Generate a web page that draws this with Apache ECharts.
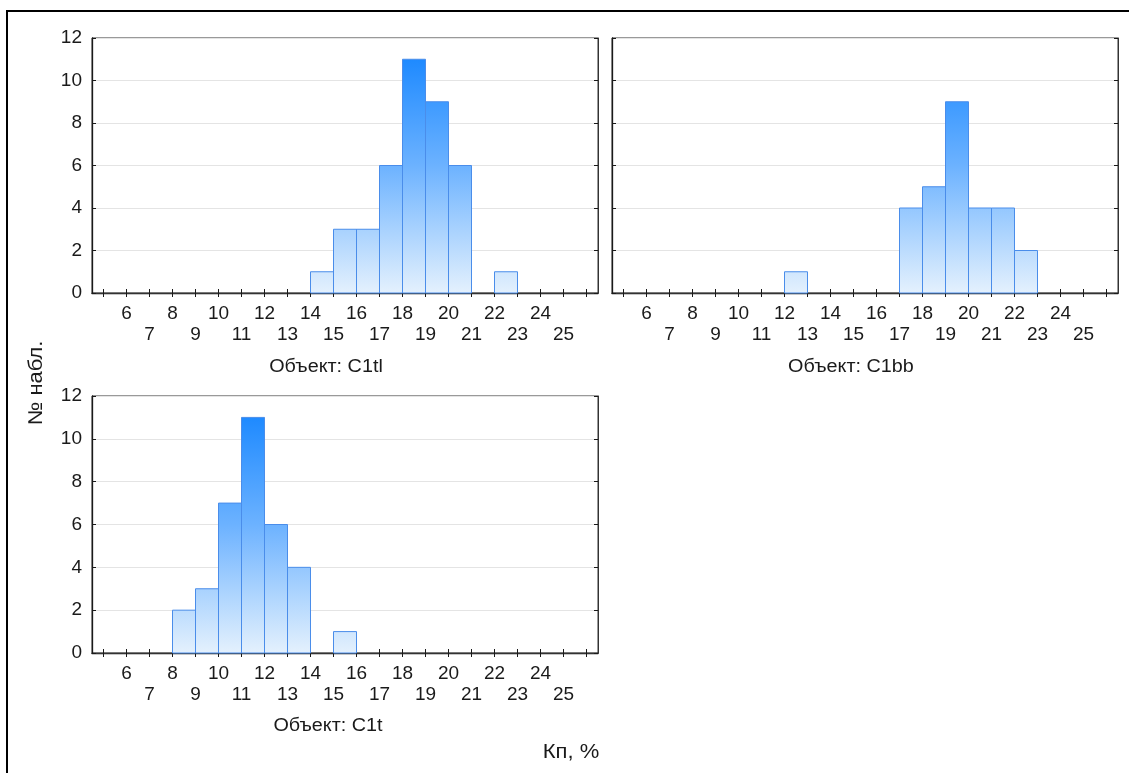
<!DOCTYPE html>
<html>
<head>
<meta charset="utf-8">
<title>Кп, % — гистограммы</title>
<script src="https://cdn.jsdelivr.net/npm/echarts@6/dist/echarts.min.js"></script>
<style>
  html, body { margin: 0; padding: 0; background: #fff; }
  #chart { width: 1129px; height: 773px; }
</style>
</head>
<body>
<div id="chart"></div>
<script>
// Histogram bins: lower edge of each 1 %-wide class and the count in it
const binWidth = 1;

const c1tlBins   = [14, 15, 16, 17, 18, 19, 20, 22];
const c1tlCounts = [1, 3, 3, 6, 11, 9, 6, 1];

const c1bbBins   = [12, 17, 18, 19, 20, 21, 22];
const c1bbCounts = [1, 4, 5, 9, 4, 4, 2];

const c1tBins    = [8, 9, 10, 11, 12, 13, 15];
const c1tCounts  = [2, 3, 7, 11, 6, 4, 1];

const panelTitles = ['Объект: C1tl', 'Объект: C1bb', 'Объект: C1t'];

// Axis scales
const xMin = 4.5, xMax = 26.5;
const xTickValues  = [5, 6, 7, 8, 9, 10, 11, 12, 13, 14, 15, 16, 17, 18, 19, 20, 21, 22, 23, 24, 25, 26];
const xLabelValues = [6, 7, 8, 9, 10, 11, 12, 13, 14, 15, 16, 17, 18, 19, 20, 21, 22, 23, 24, 25];
const yMin = 0, yMax = 12, yStep = 2;

const yAxisName = '№ набл.';
const xAxisName = 'Кп, %';

const FONT = "'Liberation Sans', Arial, sans-serif";
const INK = '#1a1a1a';

const panels = [
  { bins: c1tlBins, counts: c1tlCounts, grid: { left: 92,  top: 38,  width: 506, height: 255 }, yLabels: true },
  { bins: c1bbBins, counts: c1bbCounts, grid: { left: 612, top: 38,  width: 506, height: 255 }, yLabels: false },
  { bins: c1tBins,  counts: c1tCounts,  grid: { left: 92,  top: 396, width: 506, height: 257 }, yLabels: true }
];

const grid = [], xAxis = [], yAxis = [], series = [];

panels.forEach((p, i) => {
  grid.push(Object.assign({
    show: true, borderColor: '#333', borderWidth: 1,
    backgroundColor: '#fff', containLabel: false, outerBoundsMode: 'none'
  }, p.grid));

  // bottom axis with the staggered two-row labels
  xAxis.push({
    type: 'value', gridIndex: i, position: 'bottom', min: xMin, max: xMax,
    axisLine: { show: true, lineStyle: { color: INK, width: 1.3 } },
    axisTick: { show: true, inside: true, length: 4, customValues: xTickValues, lineStyle: { color: INK } },
    axisLabel: {
      show: true, customValues: xLabelValues, margin: 10,
      fontFamily: FONT, fontSize: 19, color: INK, lineHeight: 21,
      formatter: v => (v % 2 ? '\n' + v : String(v))
    },
    splitLine: { show: false }
  });
  // top frame ticks
  xAxis.push({
    type: 'value', gridIndex: i, position: 'top', min: xMin, max: xMax,
    axisLine: { show: true, lineStyle: { color: '#333', width: 1 } },
    axisTick: { show: true, inside: true, length: 4, customValues: xTickValues, lineStyle: { color: INK } },
    axisLabel: { show: false },
    splitLine: { show: false }
  });

  yAxis.push({
    type: 'value', gridIndex: i, position: 'left', min: yMin, max: yMax, interval: yStep,
    axisLine: { show: true, lineStyle: { color: INK, width: 1.3 } },
    axisTick: { show: true, inside: true, length: 4, lineStyle: { color: INK } },
    axisLabel: { show: p.yLabels, margin: 10, fontFamily: FONT, fontSize: 19, color: INK },
    splitLine: { show: true, lineStyle: { color: '#e4e4e4', width: 1 } }
  });
  yAxis.push({
    type: 'value', gridIndex: i, position: 'right', min: yMin, max: yMax, interval: yStep,
    axisLine: { show: true, lineStyle: { color: '#333', width: 1 } },
    axisTick: { show: true, inside: true, length: 4, lineStyle: { color: INK } },
    axisLabel: { show: false },
    splitLine: { show: false }
  });

  series.push({
    type: 'custom',
    xAxisIndex: i * 2,
    yAxisIndex: i * 2,
    data: p.bins.map((b, k) => [b, p.counts[k]]),
    renderItem: (params, api) => {
      const lo = api.value(0), n = api.value(1);
      const p0 = api.coord([lo, 0]);
      const p1 = api.coord([lo + binWidth, n]);
      const base = api.coord([lo, yMin]);
      const top = api.coord([lo, yMax]);
      return {
        type: 'rect',
        shape: { x: p0[0], y: p1[1], width: p1[0] - p0[0], height: p0[1] - p1[1] },
        style: {
          fill: {
            type: 'linear', global: true,
            x: 0, y: top[1], x2: 0, y2: base[1],
            colorStops: [
              { offset: 0, color: '#0f82ff' },
              { offset: 0.5, color: '#6cb2ff' },
              { offset: 1, color: '#e4f1fd' }
            ]
          },
          stroke: '#4a8dea',
          lineWidth: 1
        }
      };
    },
    silent: true
  });
});

function caption(text, x, y, size) {
  return {
    type: 'text', x, y, scaleX: 1.1,
    style: { text, font: size + 'px ' + FONT, fill: INK, align: 'center', verticalAlign: 'middle' }
  };
}

const graphic = [
  // outer frame (left and top edges)
  { type: 'line', shape: { x1: 7, y1: 10, x2: 7, y2: 773 }, style: { stroke: '#000', lineWidth: 2 } },
  { type: 'line', shape: { x1: 6, y1: 11, x2: 1129, y2: 11 }, style: { stroke: '#000', lineWidth: 2 } },
  // panel captions
  caption(panelTitles[0], 326, 367, 18),
  caption(panelTitles[1], 851, 367, 18),
  caption(panelTitles[2], 328, 726, 18),
  // axis names
  { type: 'text', x: 36, y: 383, rotation: Math.PI / 2, scaleX: 1.1,
    style: { text: yAxisName, font: '20px ' + FONT, fill: INK, align: 'center', verticalAlign: 'middle' } },
  caption(xAxisName, 571, 752, 20)
];

const chart = echarts.init(document.getElementById('chart'), null, { renderer: 'canvas' });
chart.setOption({
  animation: false,
  backgroundColor: '#fff',
  grid, xAxis, yAxis, series, graphic
});
</script>
</body>
</html>
